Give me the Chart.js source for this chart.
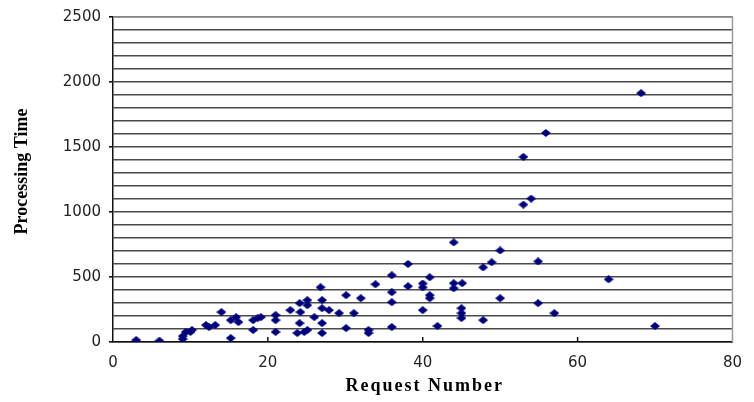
<!DOCTYPE html>
<html>
<head>
<meta charset="utf-8">
<script src="https://cdn.jsdelivr.net/npm/chart.js@4"></script>
<style>
  html, body { margin: 0; padding: 0; background: #fff; }
  #wrap { width: 754px; height: 402px; }
</style>
</head>
<body>
<div id="wrap"><canvas id="c" width="754" height="402"></canvas></div>
<script>
// ─── data ───
const requestNumber = [
  3, 6, 9, 9, 9.4, 10, 10.2, 12, 12.4, 13.2, 14, 15.2, 15.2, 15.9, 16.2,
  18.1, 18.1, 18.7, 19.1, 21, 21, 21, 22.9, 24.1, 24.2, 24.1, 23.8, 24.7,
  25.1, 25.1, 26, 25.1, 26.8, 27, 27, 27, 27, 27.9, 29.2, 30.1, 30.1, 31.1,
  32, 33, 33, 33.9, 36, 36, 36, 36, 38.1, 38.1, 40, 40, 40.9, 40.9, 40.9,
  40, 41.9, 44, 44, 44, 45.1, 45, 45, 45, 47.8, 50, 48.9, 47.8, 50, 53,
  55.9, 54, 53, 54.9, 64, 54.9, 57, 70, 68.2
];
const processingTime = [
  15, 10, 23, 45, 77, 77, 92, 130, 115, 130, 230, 168, 30, 191, 153,
  168, 92, 184, 191, 207, 168, 77, 245, 299, 230, 145, 69, 77,
  322, 283, 191, 92, 421, 322, 260, 145, 69, 245, 222, 360, 107, 222,
  337, 92, 69, 444, 513, 383, 306, 115, 429, 600, 450, 420, 498, 360, 337,
  245, 123, 766, 452, 413, 452, 260, 222, 184, 168, 337, 613, 574, 704, 1424,
  1608, 1103, 1057, 620, 482, 299, 222, 123, 1914
];
const xTickStep = 20;
const yGridStep = 100;
const yMajorStep = 500;

const points = requestNumber.map((x, i) => ({ x, y: processingTime[i] }));

// flattened navy diamond marker
function diamond(w, h, color) {
  const cv = document.createElement('canvas');
  cv.width = w; cv.height = h;
  const g = cv.getContext('2d');
  g.fillStyle = color;
  g.beginPath();
  g.moveTo(w / 2, 0);
  g.lineTo(w, h / 2);
  g.lineTo(w / 2, h);
  g.lineTo(0, h / 2);
  g.closePath();
  g.fill();
  return cv;
}
const marker = diamond(10, 8, '#00007a');

// frame, inward x ticks and axis titles
const decor = {
  id: 'decor',
  beforeDatasetsDraw(chart) {
    const { ctx, chartArea: a, scales } = chart;
    ctx.save();
    ctx.strokeStyle = '#9a9a9a';
    ctx.lineWidth = 1.5;
    ctx.beginPath();
    ctx.moveTo(a.left, a.top);
    ctx.lineTo(a.right, a.top);
    ctx.lineTo(a.right, a.bottom);
    ctx.stroke();
    ctx.strokeStyle = '#111';
    for (let v = xTickStep; v < scales.x.max; v += xTickStep) {
      const px = scales.x.getPixelForValue(v);
      ctx.beginPath();
      ctx.moveTo(px, a.bottom);
      ctx.lineTo(px, a.bottom - 5);
      ctx.stroke();
    }
    ctx.restore();
  },
  afterDraw(chart) {
    const { ctx, chartArea: a } = chart;
    ctx.save();
    ctx.fillStyle = '#000';
    ctx.font = 'bold 18px "Liberation Serif", "Times New Roman", serif';
    ctx.textAlign = 'center';
    ctx.textBaseline = 'middle';
    ctx.letterSpacing = '2px';
    ctx.fillText('Request Number', (a.left + a.right) / 2 + 2, 386);
    ctx.letterSpacing = '0px';
    ctx.translate(22, (a.top + a.bottom) / 2 - 8);
    ctx.rotate(-Math.PI / 2);
    ctx.fillText('Processing Time', 0, 0);
    ctx.restore();
  }
};

new Chart(document.getElementById('c'), {
  type: 'scatter',
  data: {
    datasets: [{
      data: points,
      pointStyle: marker,
      pointRadius: 5,
      backgroundColor: '#00007a',
      borderColor: '#00007a',
    }]
  },
  options: {
    responsive: false,
    animation: false,
    layout: { padding: { top: 16, right: 13, left: 0, bottom: 0 } },
    plugins: { legend: { display: false }, tooltip: { enabled: false } },
    scales: {
      x: {
        type: 'linear',
        min: 0,
        max: 80,
        ticks: {
          stepSize: xTickStep,
          padding: 12,
          color: '#222',
          font: { family: '"DejaVu Sans", sans-serif', size: 15 },
        },
        grid: { display: false, drawTicks: false },
        border: { display: true, color: '#111', width: 1.5 },
        afterFit: (s) => { s.height = 60; },
      },
      y: {
        min: 0,
        max: 2500,
        ticks: {
          stepSize: yGridStep,
          autoSkip: false,
          padding: 8,
          color: '#222',
          font: { family: '"DejaVu Sans", sans-serif', size: 15 },
          callback: (v) => (v % yMajorStep === 0 ? v : ''),
        },
        grid: {
          color: '#4a4a4a',
          lineWidth: 1.6,
          tickLength: 4,
          tickColor: (c) => (c.tick && c.tick.value % yMajorStep === 0 ? '#111' : 'rgba(0,0,0,0)'),
        },
        border: { display: true, color: '#111', width: 1.5 },
        afterFit: (s) => { s.width = 113; },
      }
    }
  },
  plugins: [decor]
});
</script>
</body>
</html>
